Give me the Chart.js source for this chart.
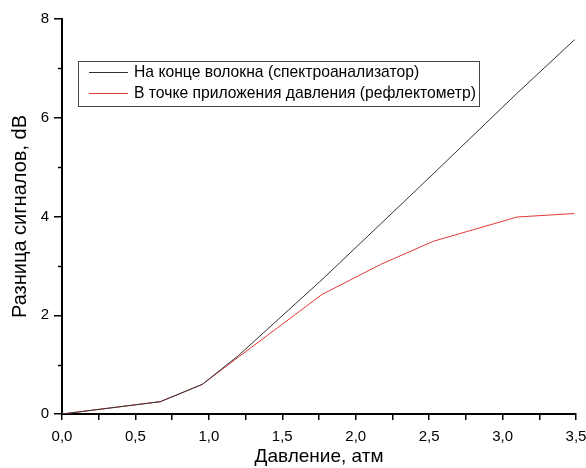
<!DOCTYPE html>
<html>
<head>
<meta charset="utf-8">
<script src="https://cdn.jsdelivr.net/npm/chart.js@4"></script>
<style>
  html, body { margin: 0; padding: 0; background: #fff; }
  #wrap { width: 586px; height: 468px; }
</style>
</head>
<body>
<div id="wrap"><canvas id="chart"></canvas></div>
<script>
// pressure, atm
var pressure = [0, 0.67, 0.955, 1.2, 1.77, 2.17, 2.53, 3.1, 3.49];
// signal difference, dB
var fibreEnd = [0, 0.25, 0.6, 1.18, 2.72, 3.85, 4.87, 6.5, 7.58];
var pressPoint = [0, 0.25, 0.6, 1.15, 2.42, 3.03, 3.5, 3.99, 4.06];

var seriesLabels = ['На конце волокна (спектроанализатор)', 'В точке приложения давления (рефлектометр)'];
var xTitle = 'Давление, атм';
var yTitle = 'Разница сигналов, dB';

var FONT = "'Liberation Sans', Arial, sans-serif";

var toPoints = function (xs, ys) {
    return xs.map(function (x, i) { return { x: x, y: ys[i] }; });
};

// minor ticks on y and the legend box inside the plot
var extras = {
    id: 'extras',
    afterDraw: function (chart) {
        var ctx = chart.ctx;
        var y = chart.scales.y;
        ctx.save();
        ctx.strokeStyle = '#000';
        ctx.lineWidth = 1.5;
        for (var v = 1; v < 8; v += 2) {
            var py = Math.round(y.getPixelForValue(v)) + 0.5;
            ctx.beginPath();
            ctx.moveTo(y.right - 4, py);
            ctx.lineTo(y.right, py);
            ctx.stroke();
        }

        var bx = 78.5, by = 61.5, bw = 401, bh = 45;
        ctx.lineWidth = 1;
        ctx.strokeStyle = '#444';
        ctx.strokeRect(bx, by, bw, bh);
        ctx.font = '15.7px ' + FONT;
        ctx.textBaseline = 'middle';
        ctx.fillStyle = '#000';
        chart.data.datasets.forEach(function (ds, i) {
            var ly = 72.5 + i * 21;
            ctx.strokeStyle = ds.borderColor;
            ctx.beginPath();
            ctx.moveTo(89, ly);
            ctx.lineTo(128, ly);
            ctx.stroke();
            ctx.fillText(ds.label, 134, ly + 0.5);
        });
        ctx.restore();
    }
};

var chart = new Chart(document.getElementById('chart').getContext('2d'), {
    type: 'line',
    data: {
        datasets: [{
            label: seriesLabels[0],
            data: toPoints(pressure, fibreEnd),
            borderColor: '#333',
            borderWidth: 1,
            pointRadius: 0,
            tension: 0
        }, {
            label: seriesLabels[1],
            data: toPoints(pressure, pressPoint),
            borderColor: '#e03a3a',
            borderWidth: 1,
            pointRadius: 0,
            tension: 0
        }]
    },
    options: {
        responsive: true,
        maintainAspectRatio: false,
        animation: false,
        layout: { padding: { top: 19, right: 10, left: 0, bottom: 0 } },
        plugins: {
            legend: { display: false },
            tooltip: { enabled: false }
        },
        scales: {
            x: {
                type: 'linear',
                min: 0,
                max: 3.5,
                afterFit: function (s) { s.height = 54; s.paddingRight = 0; s.paddingLeft = 0; },
                border: { color: '#000', width: 2 },
                grid: { drawOnChartArea: false, color: '#000', lineWidth: 1.5, tickLength: 6 },
                ticks: {
                    stepSize: 0.25,
                    padding: 8,
                    color: '#000',
                    font: { family: FONT, size: 15 },
                    maxRotation: 0,
                    autoSkip: false,
                    callback: function (v) {
                        return Math.abs(v * 2 - Math.round(v * 2)) < 1e-6 ? v.toFixed(1).replace('.', ',') : '';
                    }
                },
                title: {
                    display: true,
                    text: xTitle,
                    color: '#000',
                    font: { family: FONT, size: 19 },
                    padding: { top: 0, bottom: 0 }
                }
            },
            y: {
                min: 0,
                max: 8,
                afterFit: function (s) { s.width = 62; s.paddingTop = 0; s.paddingBottom = 0; },
                border: { color: '#000', width: 2 },
                grid: {
                    drawOnChartArea: false,
                    lineWidth: 1.5,
                    tickLength: 8,
                    color: function (c) { return c.tick && c.tick.value % 2 === 0 ? '#000' : 'rgba(0,0,0,0)'; }
                },
                ticks: {
                    stepSize: 1,
                    padding: 5,
                    color: '#000',
                    font: { family: FONT, size: 15 },
                    callback: function (v) { return v % 2 === 0 ? String(v) : ''; }
                },
                title: {
                    display: true,
                    text: yTitle,
                    color: '#000',
                    font: { family: FONT, size: 20 },
                    padding: { top: 8, bottom: 0 }
                }
            }
        }
    },
    plugins: [extras]
});
</script>
</body>
</html>
